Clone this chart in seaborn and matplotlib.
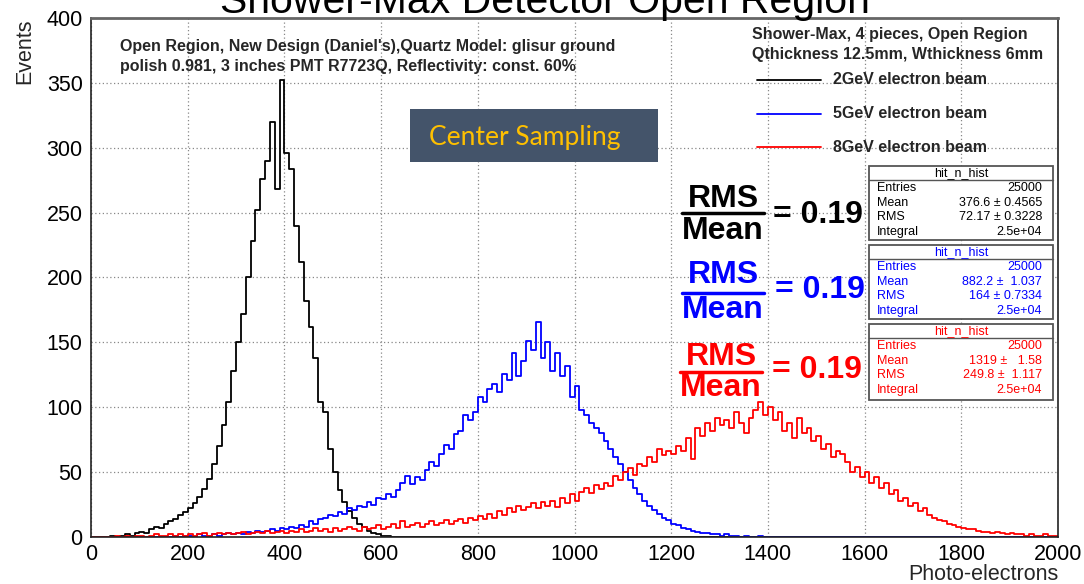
import numpy as np
import pandas as pd
import matplotlib
matplotlib.use("Agg")
import matplotlib.pyplot as plt
import seaborn as sns
from matplotlib.patches import Rectangle
from matplotlib.lines import Line2D
from matplotlib.ticker import MultipleLocator

# ---------------- data ----------------
bin_width = 10
bin_starts = list(range(0, 2000, bin_width))

counts_2gev = [
    0, 0, 0, 0, 1, 0, 1, 2, 1, 3, 4, 3, 6, 8, 7, 10, 12, 14, 17, 19,
    22, 26, 31, 37, 45, 56, 70, 86, 104, 128, 150, 172, 200, 228, 252, 276, 290, 320, 268, 352,
    296, 284, 240, 212, 182, 162, 138, 104, 96, 68, 50, 36, 27, 20, 15, 10, 8, 5, 3, 2,
    1, 1, 0, 0, 0, 0, 0, 0, 0, 0, 0, 0, 0, 0, 0, 0, 0, 0, 0, 0,
    0, 0, 0, 0, 0, 0, 0, 0, 0, 0, 0, 0, 0, 0, 0, 0, 0, 0, 0, 0,
    0, 0, 0, 0, 0, 0, 0, 0, 0, 0, 0, 0, 0, 0, 0, 0, 0, 0, 0, 0,
    0, 0, 0, 0, 0, 0, 0, 0, 0, 0, 0, 0, 0, 0, 0, 0, 0, 0, 0, 0,
    0, 0, 0, 0, 0, 0, 0, 0, 0, 0, 0, 0, 0, 0, 0, 0, 0, 0, 0, 0,
    0, 0, 0, 0, 0, 0, 0, 0, 0, 0, 0, 0, 0, 0, 0, 0, 0, 0, 0, 0,
    0, 0, 0, 0, 0, 0, 0, 0, 0, 0, 0, 0, 0, 0, 0, 0, 0, 0, 0, 0,
]

counts_5gev = [
    0, 0, 0, 0, 0, 0, 0, 0, 0, 0, 0, 0, 0, 0, 0, 0, 0, 1, 0, 1,
    1, 0, 2, 1, 1, 2, 1, 2, 3, 2, 3, 2, 4, 3, 5, 4, 5, 6, 5, 7,
    6, 8, 7, 9, 8, 12, 10, 14, 15, 17, 16, 19, 18, 22, 21, 24, 23, 27, 25, 30,
    29, 33, 31, 36, 42, 47, 41, 46, 44, 52, 58, 55, 64, 71, 68, 79, 82, 94, 90, 96,
    108, 104, 114, 118, 112, 126, 121, 142, 124, 136, 151, 144, 166, 138, 150, 128, 142, 124, 132, 108,
    116, 98, 94, 88, 84, 80, 74, 68, 62, 56, 50, 44, 38, 33, 28, 24, 21, 18, 15, 13,
    10, 9, 7, 6, 5, 4, 3, 3, 2, 2, 1, 2, 1, 1, 0, 1, 0, 0, 1, 0,
    0, 0, 0, 0, 0, 0, 0, 0, 0, 0, 0, 0, 0, 0, 0, 0, 0, 0, 0, 0,
    0, 0, 0, 0, 0, 0, 0, 0, 0, 0, 0, 0, 0, 0, 0, 0, 0, 0, 0, 0,
    0, 0, 0, 0, 0, 0, 0, 0, 0, 0, 0, 0, 0, 0, 0, 0, 0, 0, 0, 0,
]

counts_8gev = [
    0, 0, 0, 0, 0, 1, 0, 1, 0, 1, 1, 0, 1, 2, 1, 1, 2, 1, 2, 1,
    2, 1, 2, 3, 1, 2, 3, 2, 3, 2, 3, 4, 2, 3, 4, 3, 5, 3, 4, 5,
    3, 5, 4, 6, 4, 5, 7, 5, 6, 4, 7, 5, 6, 8, 6, 5, 8, 6, 7, 9,
    6, 8, 10, 7, 12, 8, 9, 11, 8, 10, 12, 9, 11, 13, 10, 12, 14, 11, 15, 13,
    16, 14, 18, 15, 20, 17, 22, 19, 24, 21, 23, 26, 22, 27, 24, 28, 23, 30, 26, 33,
    28, 35, 38, 34, 40, 37, 42, 39, 47, 44, 50, 53, 48, 56, 55, 62, 58, 68, 63, 66,
    64, 70, 66, 76, 60, 84, 78, 88, 82, 92, 86, 90, 84, 96, 88, 80, 92, 98, 104, 94,
    100, 90, 96, 82, 88, 76, 92, 80, 84, 74, 78, 68, 72, 62, 66, 64, 58, 50, 54, 46,
    50, 42, 46, 38, 42, 33, 36, 28, 30, 24, 26, 20, 22, 17, 15, 13, 12, 10, 9, 8,
    7, 6, 6, 5, 4, 4, 3, 4, 3, 2, 3, 2, 2, 1, 2, 1, 1, 2, 1, 1,
]

series_labels = ["2GeV electron beam", "5GeV electron beam", "8GeV electron beam"]
series_colors = ["#000000", "#0000ff", "#ff0000"]

stats = [
    [("Entries", "25000"), ("Mean", "376.6 \u00b1 0.4565"), ("RMS", "72.17 \u00b1 0.3228"), ("Integral", "2.5e+04")],
    [("Entries", "25000"), ("Mean", "882.2 \u00b1  1.037"), ("RMS", "164 \u00b1 0.7334"), ("Integral", "2.5e+04")],
    [("Entries", "25000"), ("Mean", "1319 \u00b1   1.58"), ("RMS", "249.8 \u00b1  1.117"), ("Integral", "2.5e+04")],
]
ratio_text = "= 0.19"

# ---------------- figure ----------------
W, H = 1084, 584
sns.set_style("white")
plt.rcParams["font.family"] = ["Liberation Sans", "DejaVu Sans"]

fig = plt.figure(figsize=(W / 100, H / 100), dpi=100)
ax_l, ax_r, ax_t, ax_b = 91, 1058, 18, 537
ax = fig.add_axes([ax_l / W, 1 - ax_b / H, (ax_r - ax_l) / W, (ax_b - ax_t) / H])

centers = np.array(bin_starts, dtype=float) + bin_width / 2
for counts, color in zip([counts_2gev, counts_5gev, counts_8gev], series_colors):
    df = pd.DataFrame({"x": centers, "w": np.array(counts, dtype=float)})
    sns.histplot(data=df, x="x", weights="w", binwidth=bin_width, binrange=(0, 2000),
                 element="step", fill=False, color=color, linewidth=1.3, ax=ax)

ax.set_xlim(0, 2000)
ax.set_ylim(0, 400)
ax.xaxis.set_major_locator(MultipleLocator(200))
ax.xaxis.set_minor_locator(MultipleLocator(50))
ax.yaxis.set_major_locator(MultipleLocator(50))
ax.yaxis.set_minor_locator(MultipleLocator(10))
ax.tick_params(axis="both", which="both", direction="in", colors="#222222", labelcolor="black")
ax.tick_params(axis="y", which="major", length=19, width=1.2, labelsize=15.5, pad=6)
ax.tick_params(axis="y", which="minor", length=10, width=1.0)
ax.tick_params(axis="x", which="major", length=12, width=1.2, labelsize=15.5, pad=5)
ax.tick_params(axis="x", which="minor", length=8, width=1.0)
ax.grid(True, which="major", linestyle=(0, (1, 2)), color="#888888", linewidth=0.9)
for s in ax.spines.values():
    s.set_color("#222222")
    s.set_linewidth(1.2)
ax.spines["top"].set_color("#666666")
ax.spines["top"].set_linewidth(2)
ax.set_xlabel("")
ax.set_ylabel("")


def px(x, y):
    return x / W, 1 - y / H


tf = fig.transFigure
fig.text(*px(545, 13), "Shower-Max Detector Open Region", ha="center", va="baseline",
         fontsize=29.5, color="black", transform=tf)
fig.text(*px(25, 18), "Events", rotation=90, ha="center", va="top", fontsize=15.5, transform=tf)
fig.text(*px(1058, 575), "Photo-electrons", ha="right", va="center", fontsize=15.5, transform=tf)

# top-left description
fig.text(*px(120, 47), "Open Region, New Design (Daniel's),Quartz Model: glisur ground",
         ha="left", va="center", fontsize=11.5, fontweight="bold", transform=tf)
fig.text(*px(120, 67), "polish 0.981, 3 inches PMT R7723Q, Reflectivity: const. 60%",
         ha="left", va="center", fontsize=11.5, fontweight="bold", transform=tf)

# legend
fig.text(*px(752, 35), "Shower-Max, 4 pieces, Open Region", ha="left", va="center",
         fontsize=11.5, fontweight="bold", transform=tf)
fig.text(*px(752, 55), "Qthickness 12.5mm, Wthickness 6mm", ha="left", va="center",
         fontsize=11.5, fontweight="bold", transform=tf)
for i, (lab, col) in enumerate(zip(series_labels, series_colors)):
    yy = 80 + i * 33.5
    fig.add_artist(Line2D([757 / W, 821 / W], [1 - yy / H, 1 - yy / H], color=col,
                          linewidth=1.3, transform=tf))
    fig.text(*px(833, yy), lab, ha="left", va="center", fontsize=11.5, fontweight="bold", transform=tf)

# Center Sampling box
fig.add_artist(Rectangle(px(410, 162), 248 / W, 53 / H, transform=tf,
                         facecolor="#44546A", edgecolor="none"))
fig.text(*px(525, 137), "Center Sampling", ha="center", va="center", fontsize=19,
         color="#FFC000", family=["Lato", "DejaVu Sans"], transform=tf)

# RMS/Mean fractions
frac_pos = [(723, 199, 213, 231, 773, 215), (723, 275, 293, 310, 775, 290), (721, 357, 372, 388, 772, 370)]
for (cx, yr, yl, ym, xe, ye), col in zip(frac_pos, series_colors):
    fig.text(*px(cx, yr), "RMS", ha="center", va="center", fontsize=23, fontweight="bold",
             color=col, transform=tf)
    fig.add_artist(Line2D([(cx - 41) / W, (cx + 41) / W], [1 - yl / H, 1 - yl / H], color=col,
                          linewidth=2.5, transform=tf))
    fig.text(*px(cx, ym), "Mean", ha="center", va="center", fontsize=23, fontweight="bold",
             color=col, transform=tf)
    fig.text(*px(xe, ye), ratio_text, ha="left", va="center", fontsize=23, fontweight="bold",
             color=col, transform=tf)

# stat boxes
box_tops = [166, 245, 324]
box_bots = [240, 319, 400]
for st, col, top, bot in zip(stats, series_colors, box_tops, box_bots):
    fig.add_artist(Rectangle(px(869, bot), (1053 - 869) / W, (bot - top) / H, transform=tf,
                             facecolor="white", edgecolor="#555555", linewidth=1.3, zorder=5))
    fig.add_artist(Line2D([869 / W, 1053 / W], [1 - (top + 14) / H, 1 - (top + 14) / H],
                          color="#555555", linewidth=1.0, transform=tf, zorder=6))
    fig.text(*px(961, top + 7), "hit_n_hist", ha="center", va="center", fontsize=9,
             color=col, transform=tf, zorder=7)
    for j, (k, v) in enumerate(st):
        yy = top + 22 + j * 14.7
        fig.text(*px(877, yy), k, ha="left", va="center", fontsize=9, color=col,
                 transform=tf, zorder=7)
        fig.text(*px(1042, yy), v, ha="right", va="center", fontsize=9, color=col,
                 transform=tf, zorder=7)

fig.savefig("out.png", dpi=100)
